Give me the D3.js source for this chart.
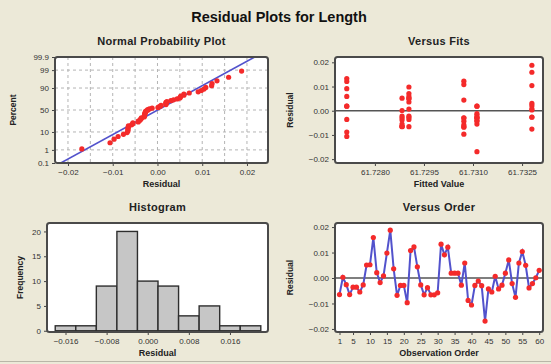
<!DOCTYPE html>
<html>
<head>
<meta charset="utf-8">
<script src="https://cdn.jsdelivr.net/npm/d3@7"></script>
<style>
  body { margin: 0; background: #ece9d8; }
  svg { display: block; font-family: "Liberation Sans", Arial, sans-serif; }
</style>
</head>
<body>
<script>
// residuals in observation order
const residuals = [
  -0.0065, 0.0003, -0.0026, -0.0065, -0.0036, -0.0036, -0.0055, -0.0027, 0.0051, 0.0052,
  0.0159, 0.0021, -0.0018, 0.0008, 0.0098, 0.0188, 0.0036, -0.0068, -0.0029, -0.0029,
  -0.0097, 0.0108, 0.0122, 0.0044, -0.0027, -0.0066, -0.0038, -0.0066, -0.0066, -0.0058,
  0.0133, 0.0091, 0.0121, 0.0019, 0.0019, 0.0019, -0.0028, 0.0059, -0.0088, -0.0106,
  -0.0029, -0.0012, -0.0030, -0.0169, -0.0043, -0.0055, 0.0007, -0.0043, -0.0028, 0.0019,
  0.0071, -0.0022, -0.0076, 0.0059, 0.0104, 0.0050, -0.0039, -0.0022, 0.0001, 0.0030
];
// the six distinct fitted values and which one each observation belongs to
const fitLevels = [61.72714, 61.72883, 61.72904, 61.73072, 61.73112, 61.73280];
const fitGroup = [
  1, 5, 5, 1, 0, 2, 1, 5, 2, 1,
  5, 5, 4, 5, 2, 5, 2, 3, 1, 4,
  3, 3, 3, 3, 2, 3, 1, 1, 2, 3,
  0, 0, 0, 0, 4, 4, 4, 0, 0, 0,
  3, 4, 3, 4, 3, 4, 2, 4, 4, 0,
  2, 2, 5, 2, 5, 2, 4, 1, 1, 5
];

// tick labels
const probTicks = [0.1, 1, 10, 50, 90, 99, 99.9];
const probGrid = [1, 10, 50, 90, 99];
const residTicks = [-0.02, -0.01, 0.00, 0.01, 0.02];
const fitTicks = [61.7280, 61.7295, 61.7310, 61.7325];
const histTicks = [-0.016, -0.008, 0.000, 0.008, 0.016];
const freqTicks = [0, 5, 10, 15, 20];
const orderTicks = [1, 5, 10, 15, 20, 25, 30, 35, 40, 45, 50, 55, 60];
const binWidth = 0.004;

const RED = "#f42a2a", BLUE = "#5252cc";

// inverse of the standard normal cdf (Acklam)
function qnorm(p) {
  const a = [-39.69683028665376, 220.9460984245205, -275.9285104469687, 138.3577518672690, -30.66479806614716, 2.506628277459239];
  const b = [-54.47609879822406, 161.5858368580409, -155.6989798598866, 66.80131188771972, -13.28068155288572];
  const c = [-0.007784894002430293, -0.3223964580411365, -2.400758277161838, -2.549732539343734, 4.374664141464968, 2.938163982698783];
  const d = [0.007784695709041462, 0.3224671290700398, 2.445134137142996, 3.754408661907416];
  const tail = q => (((((c[0]*q+c[1])*q+c[2])*q+c[3])*q+c[4])*q+c[5]) / ((((d[0]*q+d[1])*q+d[2])*q+d[3])*q+1);
  if (p < 0.02425) return tail(Math.sqrt(-2 * Math.log(p)));
  if (p > 1 - 0.02425) return -tail(Math.sqrt(-2 * Math.log(1 - p)));
  const q = p - 0.5, r = q * q;
  return (((((a[0]*r+a[1])*r+a[2])*r+a[3])*r+a[4])*r+a[5])*q / (((((b[0]*r+b[1])*r+b[2])*r+b[3])*r+b[4])*r+1);
}

const svg = d3.select("body").append("svg")
  .attr("width", 551)
  .attr("height", 364);

svg.append("rect").attr("width", 551).attr("height", 364).attr("fill", "#ece9d8");
svg.append("line").attr("x1", 0).attr("x2", 551).attr("y1", 361.5).attr("y2", 361.5)
  .attr("stroke", "#b9b6a8").attr("stroke-width", 1);

svg.append("text")
  .attr("x", 279).attr("y", 22)
  .attr("text-anchor", "middle")
  .attr("font-size", 14.5).attr("font-weight", "bold").attr("fill", "#111")
  .text("Residual Plots for Length");

// white plotting area with a clip path; border drawn later on top
function panel(id, x0, y0, x1, y1, title, xTitle, yTitle, yTitleX) {
  svg.append("clipPath").attr("id", id)
    .append("rect").attr("x", x0).attr("y", y0).attr("width", x1 - x0).attr("height", y1 - y0);
  svg.append("rect")
    .attr("x", x0).attr("y", y0).attr("width", x1 - x0).attr("height", y1 - y0)
    .attr("fill", "#fff");
  svg.append("text")
    .attr("x", (x0 + x1) / 2).attr("y", y0 - 12)
    .attr("text-anchor", "middle").attr("font-size", 11).attr("font-weight", "bold")
    .attr("fill", "#222").attr("letter-spacing", 0.3)
    .text(title);
  svg.append("text")
    .attr("x", (x0 + x1) / 2).attr("y", y1 + 24)
    .attr("text-anchor", "middle").attr("font-size", 9).attr("font-weight", "bold")
    .attr("fill", "#222")
    .text(xTitle);
  svg.append("text")
    .attr("transform", `translate(${yTitleX},${(y0 + y1) / 2}) rotate(-90)`)
    .attr("dy", "0.35em")
    .attr("text-anchor", "middle").attr("font-size", 8.5).attr("font-weight", "bold")
    .attr("fill", "#222")
    .text(yTitle);
  return svg.append("g").attr("clip-path", `url(#${id})`);
}

function border(x0, y0, x1, y1) {
  svg.append("rect")
    .attr("x", x0).attr("y", y0).attr("width", x1 - x0).attr("height", y1 - y0)
    .attr("rx", 2.5)
    .attr("fill", "none").attr("stroke", "#4a4a4a").attr("stroke-width", 2);
}

function styleAxis(g) {
  g.select(".domain").remove();
  g.selectAll(".tick line").attr("stroke", "#444");
  g.selectAll(".tick text").attr("font-size", 8).attr("fill", "#333")
    .attr("font-family", "'Liberation Sans', Arial, sans-serif");
}

// ---------- Normal Probability Plot ----------
{
  const x0 = 55, y0 = 57, x1 = 268, y1 = 163;
  const x = d3.scaleLinear().domain([-0.0229, 0.0247]).range([x0, x1]);
  const y = d3.scaleLinear().domain([qnorm(0.001), qnorm(0.999)]).range([y1, y0]);
  const g = panel("clipNP", x0, y0, x1, y1, "Normal Probability Plot", "Residual", "Percent", 13);

  const vGrid = d3.range(-0.02, 0.0201, 0.005);
  g.selectAll(".vg").data(vGrid).enter().append("line")
    .attr("x1", d => x(d)).attr("x2", d => x(d)).attr("y1", y0).attr("y2", y1)
    .attr("stroke", "#b4b4b4").attr("stroke-dasharray", "3,3");
  g.selectAll(".hg").data(probGrid).enter().append("line")
    .attr("x1", x0).attr("x2", x1)
    .attr("y1", d => y(qnorm(d / 100))).attr("y2", d => y(qnorm(d / 100)))
    .attr("stroke", "#b4b4b4").attr("stroke-dasharray", "3,3");

  // fitted normal line through mean and sd of the residuals
  const mu = d3.mean(residuals), sd = d3.deviation(residuals);
  const zs = y.domain();
  g.append("line")
    .attr("x1", x(mu + sd * zs[0] * 1.05)).attr("y1", y(zs[0] * 1.05))
    .attr("x2", x(mu + sd * zs[1] * 1.05)).attr("y2", y(zs[1] * 1.05))
    .attr("stroke", BLUE).attr("stroke-width", 1.6);

  const sorted = d3.sort(residuals);
  const n = sorted.length;
  g.selectAll(".pt").data(sorted).enter().append("circle")
    .attr("cx", d => x(d))
    .attr("cy", (d, i) => y(qnorm((i + 1 - 0.3) / (n + 0.4))))
    .attr("r", 2.6).attr("fill", RED);

  svg.append("g").attr("transform", `translate(0,${y1})`)
    .call(d3.axisBottom(x).tickValues(residTicks).tickFormat(d3.format(".2f")).tickSize(3).tickPadding(3))
    .call(styleAxis);
  svg.append("g").attr("transform", `translate(${x0},0)`)
    .call(d3.axisLeft(y).tickValues(probTicks.map(p => qnorm(p / 100)))
      .tickFormat((d, i) => probTicks[i]).tickSize(3).tickPadding(3))
    .call(styleAxis);
  border(x0, y0, x1, y1);
}

// ---------- Versus Fits ----------
{
  const x0 = 335, y0 = 57, x1 = 543, y1 = 163;
  const x = d3.scaleLinear().domain([61.72678, 61.73314]).range([x0, x1]);
  const y = d3.scaleLinear().domain([-0.0216, 0.0222]).range([y1, y0]);
  const g = panel("clipVF", x0, y0, x1, y1, "Versus Fits", "Fitted Value", "Residual", 290);

  g.append("line")
    .attr("x1", x0).attr("x2", x1).attr("y1", y(0)).attr("y2", y(0))
    .attr("stroke", "#555").attr("stroke-width", 1.5);
  g.selectAll(".pt").data(residuals).enter().append("circle")
    .attr("cx", (d, i) => x(fitLevels[fitGroup[i]]))
    .attr("cy", d => y(d))
    .attr("r", 2.6).attr("fill", RED);

  svg.append("g").attr("transform", `translate(0,${y1})`)
    .call(d3.axisBottom(x).tickValues(fitTicks).tickFormat(d3.format(".4f")).tickSize(3).tickPadding(3))
    .call(styleAxis);
  svg.append("g").attr("transform", `translate(${x0},0)`)
    .call(d3.axisLeft(y).tickValues(residTicks).tickFormat(d3.format(".2f")).tickSize(3).tickPadding(3))
    .call(styleAxis);
  border(x0, y0, x1, y1);
}

// ---------- Histogram ----------
{
  const x0 = 47, y0 = 223, x1 = 268, y1 = 332;
  const x = d3.scaleLinear().domain([-0.0196, 0.0234]).range([x0, x1]);
  const y = d3.scaleLinear().domain([-0.25, 21.7]).range([y1, y0]);
  const g = panel("clipH", x0, y0, x1, y1, "Histogram", "Residual", "Frequency", 20);

  const bins = d3.bin()
    .domain([-0.018, 0.022])
    .thresholds(d3.range(-0.018, 0.0221, binWidth))(residuals);
  g.selectAll(".bar").data(bins).enter().append("rect")
    .attr("x", d => x(d.x0))
    .attr("y", d => y(d.length))
    .attr("width", d => x(d.x1) - x(d.x0))
    .attr("height", d => y(0) - y(d.length))
    .attr("fill", "#c6c6c6").attr("stroke", "#2e2e2e").attr("stroke-width", 1.4);

  svg.append("g").attr("transform", `translate(0,${y1})`)
    .call(d3.axisBottom(x).tickValues(histTicks).tickFormat(d3.format(".3f")).tickSize(3).tickPadding(3))
    .call(styleAxis);
  svg.append("g").attr("transform", `translate(${x0},0)`)
    .call(d3.axisLeft(y).tickValues(freqTicks).tickSize(3).tickPadding(3))
    .call(styleAxis);
  border(x0, y0, x1, y1);
}

// ---------- Versus Order ----------
{
  const x0 = 335, y0 = 223, x1 = 543, y1 = 332;
  const x = d3.scaleLinear().domain([-0.33, 61.12]).range([x0, x1]);
  const y = d3.scaleLinear().domain([-0.0212, 0.0216]).range([y1, y0]);
  const g = panel("clipVO", x0, y0, x1, y1, "Versus Order", "Observation Order", "Residual", 290);

  g.append("line")
    .attr("x1", x0).attr("x2", x1).attr("y1", y(0)).attr("y2", y(0))
    .attr("stroke", "#555").attr("stroke-width", 1.5);
  const line = d3.line().x((d, i) => x(i + 1)).y(d => y(d));
  g.append("path").datum(residuals)
    .attr("d", line)
    .attr("fill", "none").attr("stroke", BLUE).attr("stroke-width", 2);
  g.selectAll(".pt").data(residuals).enter().append("circle")
    .attr("cx", (d, i) => x(i + 1))
    .attr("cy", d => y(d))
    .attr("r", 2.6).attr("fill", RED);

  svg.append("g").attr("transform", `translate(0,${y1})`)
    .call(d3.axisBottom(x).tickValues(orderTicks).tickSize(3).tickPadding(3))
    .call(styleAxis);
  svg.append("g").attr("transform", `translate(${x0},0)`)
    .call(d3.axisLeft(y).tickValues(residTicks).tickFormat(d3.format(".2f")).tickSize(3).tickPadding(3))
    .call(styleAxis);
  border(x0, y0, x1, y1);
}
</script>
</body>
</html>
